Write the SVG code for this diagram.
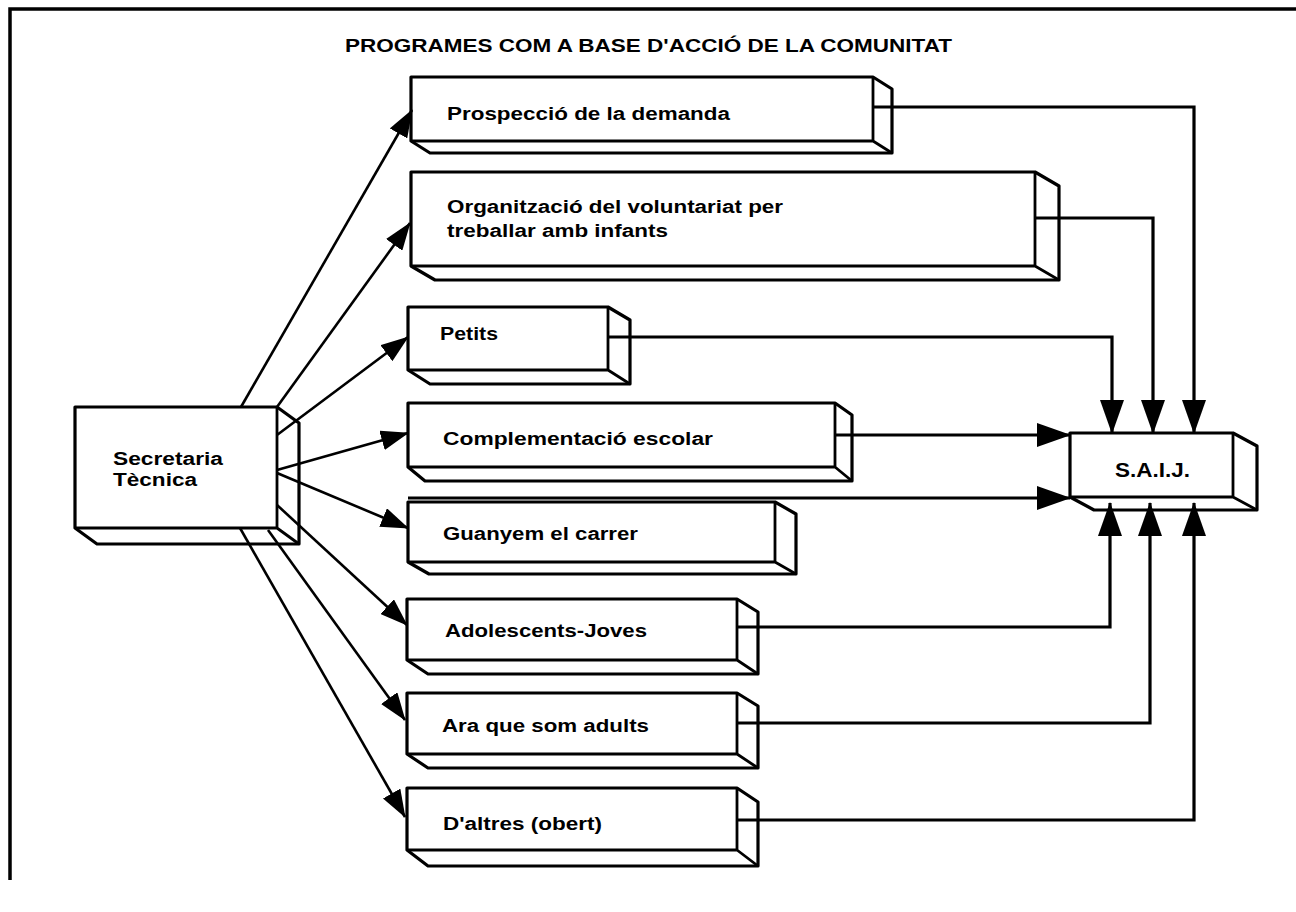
<svg xmlns="http://www.w3.org/2000/svg" width="1296" height="912" viewBox="0 0 1296 912">
<defs>
<style>
.box{fill:#fff;stroke:#000;stroke-width:3.2;stroke-linejoin:round}
.edge{fill:none;stroke:#000;stroke-width:2.8}
.t{font-family:"Liberation Sans",Arial,sans-serif;font-weight:bold;font-size:18px;fill:#000}
.fan{fill:none;stroke:#000;stroke-width:2.6;marker-end:url(#ah)}
.out{fill:none;stroke:#000;stroke-width:3.2;marker-end:url(#bh)}
</style>
<marker id="ah" viewBox="0 0 28 20" markerWidth="28" markerHeight="20" refX="27" refY="10" orient="auto" markerUnits="userSpaceOnUse"><path d="M0,0 L28,10 L0,20 z" fill="#000"/></marker>
<marker id="bh" viewBox="0 0 34 24" markerWidth="34" markerHeight="24" refX="33" refY="12" orient="auto" markerUnits="userSpaceOnUse"><path d="M0,0 L34,12 L0,24 z" fill="#000"/></marker>
</defs>
<rect width="1296" height="912" fill="#fff"/>
<path d="M10,880 V9 H1296" fill="none" stroke="#000" stroke-width="3.5"/>
<text class="t" x="345" y="52" textLength="607" lengthAdjust="spacingAndGlyphs">PROGRAMES COM A BASE D'ACCIÓ DE LA COMUNITAT</text>

<g id="secretaria">
<path class="box" d="M75,407 H277 L299,423 V544 H97 L75,528 Z"/>
<path class="edge" d="M277,407 V528 H75 M277,528 L299,544"/>
<text class="t" x="113" y="465" textLength="110" lengthAdjust="spacingAndGlyphs">Secretaria</text>
<text class="t" x="113" y="486" textLength="84" lengthAdjust="spacingAndGlyphs">Tècnica</text>
</g>

<g id="prospeccio">
<path class="box" d="M411,77 H873 L892,89 V153 H430 L411,141 Z"/>
<path class="edge" d="M873,77 V141 H411 M873,141 L892,153"/>
<text class="t" x="447" y="120" textLength="283" lengthAdjust="spacingAndGlyphs">Prospecció de la demanda</text>
</g>

<g id="organitzacio">
<path class="box" d="M411,172 H1035 L1059,186 V280 H435 L411,266 Z"/>
<path class="edge" d="M1035,172 V266 H411 M1035,266 L1059,280"/>
<text class="t" x="447" y="213" textLength="336" lengthAdjust="spacingAndGlyphs">Organització del voluntariat per</text>
<text class="t" x="447" y="237" textLength="221" lengthAdjust="spacingAndGlyphs">treballar amb infants</text>
</g>

<g id="petits">
<path class="box" d="M408,307 H608 L630,320 V384 H430 L408,370 Z"/>
<path class="edge" d="M608,307 V370 H408 M608,370 L630,384"/>
<text class="t" x="440" y="340" textLength="58" lengthAdjust="spacingAndGlyphs">Petits</text>
</g>

<g id="complementacio">
<path class="box" d="M408,403 H835 L852,415 V481 H425 L408,467 Z"/>
<path class="edge" d="M835,403 V467 H408 M835,467 L852,481"/>
<text class="t" x="443" y="445" textLength="270" lengthAdjust="spacingAndGlyphs">Complementació escolar</text>
</g>

<g id="guanyem">
<path class="box" d="M408,502 H775 L796,514 V574 H429 L408,562 Z"/>
<path class="edge" d="M775,502 V562 H408 M775,562 L796,574"/>
<text class="t" x="443" y="540" textLength="195" lengthAdjust="spacingAndGlyphs">Guanyem el carrer</text>
</g>

<g id="adolescents">
<path class="box" d="M407,599 H737 L758,612 V674 H428 L407,660 Z"/>
<path class="edge" d="M737,599 V660 H407 M737,660 L758,674"/>
<text class="t" x="445" y="637" textLength="202" lengthAdjust="spacingAndGlyphs">Adolescents-Joves</text>
</g>

<g id="adults">
<path class="box" d="M407,693 H737 L758,706 V768 H428 L407,754 Z"/>
<path class="edge" d="M737,693 V754 H407 M737,754 L758,768"/>
<text class="t" x="442" y="732" textLength="207" lengthAdjust="spacingAndGlyphs">Ara que som adults</text>
</g>

<g id="altres">
<path class="box" d="M407,788 H737 L758,802 V866 H428 L407,850 Z"/>
<path class="edge" d="M737,788 V850 H407 M737,850 L758,866"/>
<text class="t" x="443" y="830" textLength="159" lengthAdjust="spacingAndGlyphs">D'altres (obert)</text>
</g>

<g id="saij">
<path class="box" d="M1070,433 H1233 L1257,446 V510 H1094 L1070,497 Z"/>
<path class="edge" d="M1233,433 V497 H1070 M1233,497 L1257,510"/>
<text class="t" x="1115" y="477" textLength="75" lengthAdjust="spacingAndGlyphs" style="font-size:20px">S.A.I.J.</text>
</g>

<g id="connectors">
<path class="fan" d="M241,407 L412,110"/>
<path class="fan" d="M277,407 L410,223"/>
<path class="fan" d="M277,435 L408,337"/>
<path class="fan" d="M277,470 L408,433"/>
<path class="fan" d="M277,473 L408,528"/>
<path class="fan" d="M277,505 L407,625"/>
<path class="fan" d="M268,530 L405,720"/>
<path class="fan" d="M240,528 L405,817"/>
<path class="out" d="M873,107 H1194 V433"/>
<path class="out" d="M1035,218 H1153 V433"/>
<path class="out" d="M608,337 H1112 V433"/>
<path class="out" d="M835,435 H1070"/>
<path class="out" d="M408,498 H1070"/>
<path class="out" d="M737,627 H1110 V503"/>
<path class="out" d="M737,723 H1150 V503"/>
<path class="out" d="M737,820 H1194 V503"/>
</g>
</svg>
